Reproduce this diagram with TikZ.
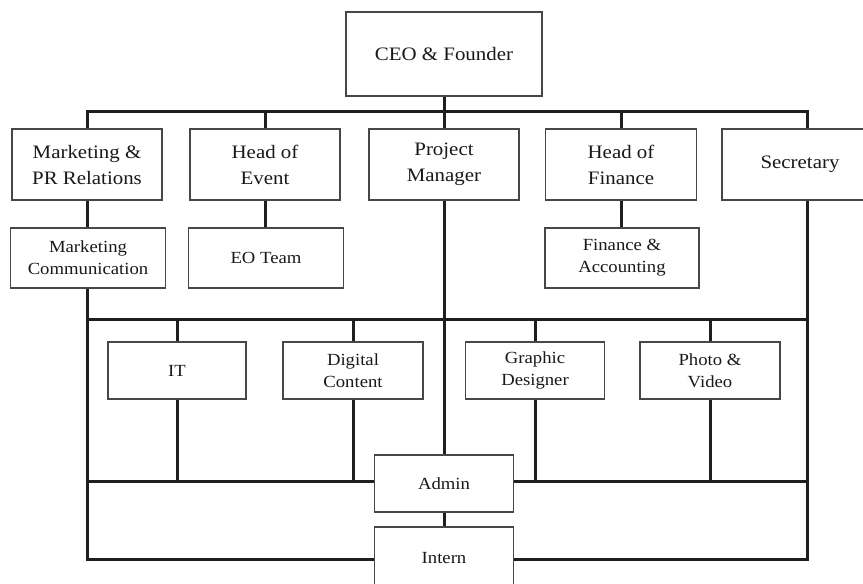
\documentclass[tikz,border=0pt]{standalone}
\usepackage{fontspec}
\setmainfont[FakeStretch=1.1]{Liberation Serif}
\begin{document}
\begin{tikzpicture}[x=1pt,y=-1pt,
  box/.style={draw=black!72, line width=1.4pt, fill=white, inner sep=0pt, align=center, text=black!90},
  big/.style={box, font=\fontsize{19}{26}\selectfont},
  small/.style={box, font=\fontsize{17}{22}\selectfont},
  link/.style={draw=black!88, line width=3pt}]
\useasboundingbox (0,0) rectangle (863,584);
% top
\node[big, minimum width=196pt, minimum height=84pt] (ceo) at (444,54) {CEO \& Founder};
% row 1
\node[big, minimum width=150pt, minimum height=71pt] (mpr) at (87,164.5) {Marketing \&\\PR Relations};
\node[big, minimum width=150pt, minimum height=71pt] (hoe) at (265,164.5) {Head of\\Event};
\node[big, minimum width=150pt, minimum height=71pt] (pm) at (444,164.5) {Project\\Manager};
\node[big, minimum width=151pt, minimum height=71pt] (hof) at (621,164.5) {Head of\\Finance};
\node[big, minimum width=156pt, minimum height=71pt] (sec) at (800,164.5) {Secretary};
% row 2
\node[small, minimum width=155pt, minimum height=60pt] (mc) at (88,258) {Marketing\\Communication};
\node[small, minimum width=155pt, minimum height=60pt] (eo) at (266,258) {EO Team};
\node[small, minimum width=154pt, minimum height=60pt] (fa) at (622,258) {Finance \&\\Accounting};
% row 3
\node[small, minimum width=138pt, minimum height=57pt] (it) at (177,370.5) {IT};
\node[small, minimum width=140pt, minimum height=57pt] (dc) at (353,370.5) {Digital\\Content};
\node[small, minimum width=139pt, minimum height=57pt] (gd) at (535,370.5) {Graphic\\Designer};
\node[small, minimum width=140pt, minimum height=57pt] (pv) at (710,370.5) {Photo \&\\Video};
% bottom
\node[small, minimum width=139pt, minimum height=57pt] (admin) at (444,483.5) {Admin};
\node[small, minimum width=139pt, minimum height=62pt] (intern) at (444,558) {Intern};
% bus levels and frame positions
\coordinate (b1) at (0,111);
\coordinate (b2) at (0,319);
\coordinate (b3) at (0,481);
\coordinate (b4) at (0,559);
\coordinate (xL) at (87,0);
\coordinate (xR) at (807,0);
% connectors
\draw[link] (ceo.south) -- (pm.north);
\draw[link] (mpr.north) |- (xR |- b1) -- (xR |- sec.north);
\draw[link] (hoe.north |- b1) -- (hoe.north);
\draw[link] (hof.north |- b1) -- (hof.north);
\draw[link] (mpr.south) -- (mpr.south |- mc.north);
\draw[link] (hoe.south) -- (hoe.south |- eo.north);
\draw[link] (hof.south) -- (hof.south |- fa.north);
\draw[link] (xL |- mc.south) |- (intern.west |- b4);
\draw[link] (xR |- sec.south) |- (intern.east |- b4);
\draw[link] (pm.south) -- (admin.north);
\draw[link] (admin.south) -- (intern.north);
\draw[link] (xL |- b2) -- (xR |- b2);
\draw[link] (xL |- b3) -- (admin.west |- b3);
\draw[link] (admin.east |- b3) -- (xR |- b3);
\foreach \n in {it,dc,gd,pv}{
  \draw[link] (\n.north |- b2) -- (\n.north);
  \draw[link] (\n.south) -- (\n.south |- b3);
}
\end{tikzpicture}
\end{document}
